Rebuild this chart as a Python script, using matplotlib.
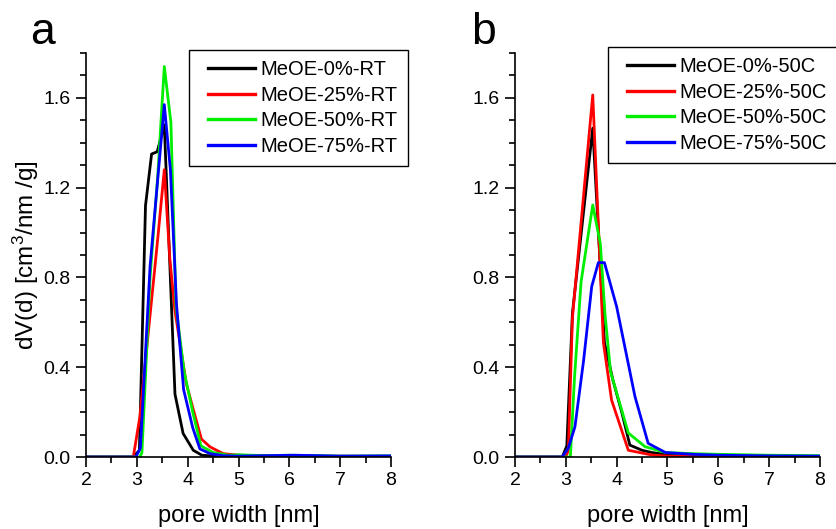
import matplotlib
matplotlib.use("Agg")
import matplotlib.pyplot as plt
from matplotlib.lines import Line2D
from matplotlib.legend_handler import HandlerLine2D
from matplotlib.ticker import MultipleLocator, FormatStrFormatter

plt.rcParams['font.family'] = ['Liberation Sans', 'DejaVu Sans']
plt.rcParams['mathtext.default'] = 'regular'

# panel a: room temperature
x_0_rt = [2.0, 2.93, 3.05, 3.17, 3.29, 3.40, 3.54, 3.75, 3.91, 4.11, 4.28, 4.6, 5.0, 6.0, 7.0, 8.0]
y_0_rt = [0, 0, 0.03, 1.12, 1.35, 1.36, 1.48, 0.28, 0.105, 0.03, 0.008, 0.003, 0.003, 0.004, 0.003, 0.003]

x_25_rt = [2.0, 2.93, 3.06, 3.17, 3.29, 3.41, 3.54, 3.65, 3.75, 3.97, 4.1, 4.27, 4.44, 4.70, 5.0, 5.5, 6.0, 7.0, 8.0]
y_25_rt = [0, 0, 0.18, 0.43, 0.70, 0.97, 1.28, 0.88, 0.65, 0.33, 0.22, 0.08, 0.045, 0.015, 0.008, 0.005, 0.004, 0.003, 0.003]

x_50_rt = [2.0, 3.06, 3.10, 3.26, 3.41, 3.54, 3.67, 3.77, 3.93, 4.1, 4.26, 4.5, 4.8, 5.0, 5.5, 6.0, 7.0, 8.0]
y_50_rt = [0, 0, 0.02, 0.80, 1.25, 1.74, 1.49, 0.67, 0.38, 0.20, 0.05, 0.02, 0.008, 0.01, 0.006, 0.008, 0.004, 0.005]

x_75_rt = [2.0, 2.98, 3.07, 3.26, 3.54, 3.66, 3.78, 3.92, 4.1, 4.24, 4.44, 4.7, 5.0, 6.1, 7.0, 8.0]
y_75_rt = [0, 0, 0.04, 0.85, 1.57, 1.28, 0.68, 0.30, 0.13, 0.036, 0.015, 0.006, 0.004, 0.008, 0.004, 0.005]

# panel b: 50 C
x_0_50 = [2.0, 2.93, 3.02, 3.13, 3.53, 3.76, 3.93, 4.1, 4.26, 4.5, 4.69, 5.0, 6.0, 7.0, 8.0]
y_0_50 = [0, 0, 0.05, 0.64, 1.465, 0.51, 0.34, 0.20, 0.053, 0.03, 0.02, 0.01, 0.005, 0.003, 0.002]

x_25_50 = [2.0, 3.0, 3.05, 3.13, 3.53, 3.74, 3.90, 4.23, 4.69, 5.0, 8.0]
y_25_50 = [0, 0, 0.03, 0.62, 1.613, 0.51, 0.254, 0.03, 0.009, 0.004, 0.002]

x_50_50 = [2.0, 3.09, 3.17, 3.30, 3.53, 3.68, 3.77, 3.88, 4.23, 4.56, 4.96, 5.5, 6.0, 7.0, 8.0]
y_50_50 = [0, 0, 0.35, 0.78, 1.123, 0.95, 0.64, 0.38, 0.107, 0.046, 0.02, 0.015, 0.012, 0.008, 0.006]

x_75_50 = [2.0, 2.93, 3.05, 3.18, 3.35, 3.51, 3.64, 3.76, 4.0, 4.36, 4.62, 4.96, 5.5, 6.0, 7.0, 8.0]
y_75_50 = [0, 0, 0.04, 0.135, 0.43, 0.76, 0.866, 0.866, 0.67, 0.27, 0.061, 0.02, 0.012, 0.008, 0.005, 0.004]

colors = ['black', '#ff0000', '#00ee00', '#0000ff']
labels_rt = ['MeOE-0%-RT', 'MeOE-25%-RT', 'MeOE-50%-RT', 'MeOE-75%-RT']
labels_50 = ['MeOE-0%-50C', 'MeOE-25%-50C', 'MeOE-50%-50C', 'MeOE-75%-50C']


def style_axes(ax):
    ax.set_xlim(2, 8)
    ax.set_ylim(0, 1.8)
    ax.xaxis.set_major_locator(MultipleLocator(1))
    ax.xaxis.set_minor_locator(MultipleLocator(0.5))
    ax.yaxis.set_major_locator(MultipleLocator(0.4))
    ax.yaxis.set_minor_locator(MultipleLocator(0.1))
    ax.yaxis.set_major_formatter(FormatStrFormatter('%.1f'))
    ax.spines['top'].set_visible(False)
    ax.spines['right'].set_visible(False)
    for s in ('left', 'bottom'):
        ax.spines[s].set_linewidth(1.2)
    ax.tick_params(which='major', direction='out', length=7, width=1.2, labelsize=14, pad=4)
    ax.tick_params(which='minor', direction='out', length=4, width=1.2)
    ax.set_xlabel('pore width [nm]', fontsize=17, labelpad=11)


fig = plt.figure(figsize=(8.36, 5.29), dpi=100)
ax1 = fig.add_axes([0.1029, 0.1361, 0.3648, 0.7637])
ax2 = fig.add_axes([0.616, 0.1361, 0.3648, 0.7637])

series_rt = [(x_0_rt, y_0_rt), (x_25_rt, y_25_rt), (x_50_rt, y_50_rt), (x_75_rt, y_75_rt)]
series_50 = [(x_0_50, y_0_50), (x_25_50, y_25_50), (x_50_50, y_50_50), (x_75_50, y_75_50)]

for (x, y), c, lab in zip(series_rt, colors, labels_rt):
    ax1.plot(x, y, color=c, lw=2.0, label=lab)
for (x, y), c, lab in zip(series_50, colors, labels_50):
    ax2.plot(x, y, color=c, lw=2.0, label=lab)

for ax in (ax1, ax2):
    style_axes(ax)

ax1.set_ylabel('dV(d) [cm$^3$/nm /g]', fontsize=17.5, labelpad=2)

leg_kw = dict(fontsize=14.5, handlelength=2.8, labelspacing=0.33, handletextpad=0.25,
              borderpad=0.5, borderaxespad=0, fancybox=False, framealpha=1, edgecolor='black',
              handler_map={Line2D: HandlerLine2D(xpad=0.45)})
l1 = ax1.legend(loc='upper left', bbox_to_anchor=(189 / 836, 1 - 50 / 529),
                bbox_transform=fig.transFigure, **leg_kw)
l2 = ax2.legend(loc='upper left', bbox_to_anchor=(608 / 836, 1 - 47 / 529),
                bbox_transform=fig.transFigure, **leg_kw)
for l in (l1, l2):
    l.get_frame().set_linewidth(1.0)
    for h in l.get_lines():
        h.set_linewidth(2.4)

fig.text(0.036, 1 - 44 / 529, 'a', fontsize=32, va='baseline')
fig.text(0.563, 1 - 44 / 529, 'b', fontsize=32, va='baseline')

fig.savefig('out.png', dpi=100)
